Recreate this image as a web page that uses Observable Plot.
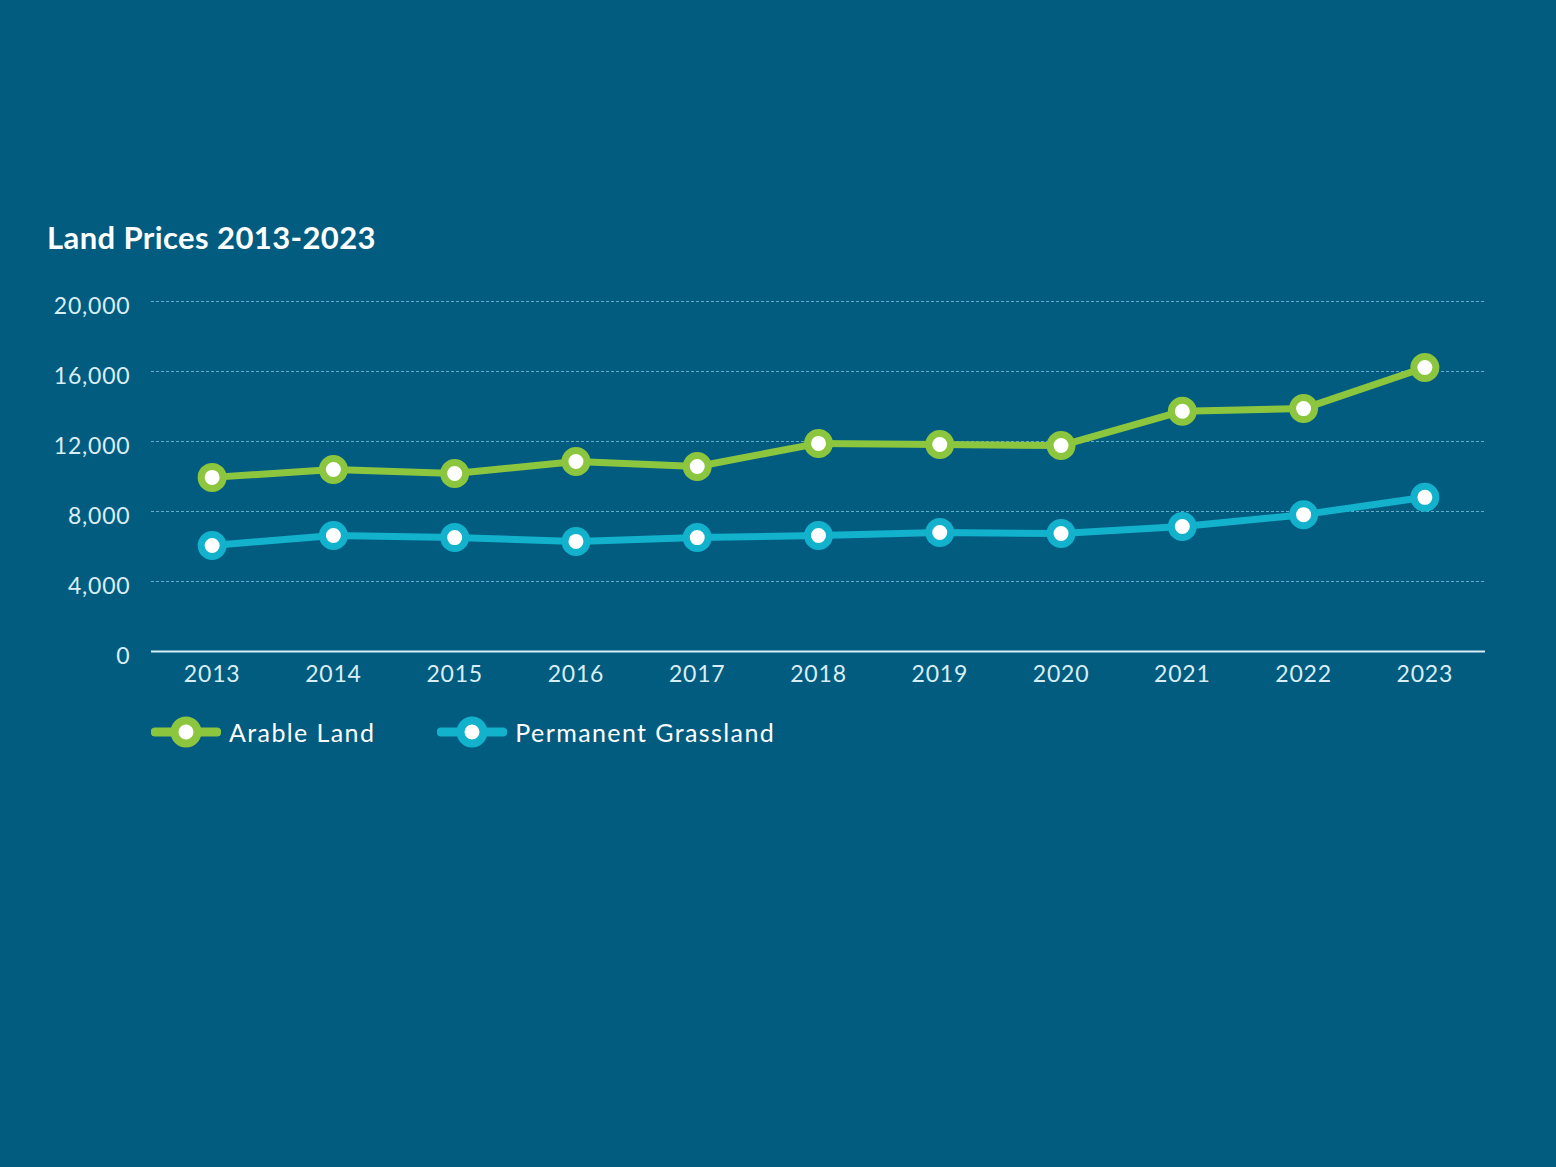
<!DOCTYPE html>
<html>
<head>
<meta charset="utf-8">
<script src="https://cdn.jsdelivr.net/npm/d3@7"></script>
<script src="https://cdn.jsdelivr.net/npm/@observablehq/plot@0.6"></script>
<style>
  html, body { margin: 0; padding: 0; background: #025c80; width: 1556px; height: 1167px; overflow: hidden; font-family: Lato, "Noto Sans", sans-serif; }
  #title { position: absolute; left: 47px; top: 218px; color: #ffffff; font-weight: bold; font-size: 31px; letter-spacing: 0.4px; }
  #chart { position: absolute; left: 0; top: 270px; }
  #chart svg text { letter-spacing: 0.8px; }
  #legend { position: absolute; left: 151px; top: 714px; display: flex; align-items: center; color: #ffffff; font-size: 25px; letter-spacing: 1.4px; }
  .item { display: flex; align-items: center; margin-right: 62px; }
  .item svg { margin-right: 8px; }
</style>
</head>
<body>
<div id="title">Land Prices 2013-2023</div>
<div id="chart"></div>
<div id="legend"></div>
<script>
const years = [2013, 2014, 2015, 2016, 2017, 2018, 2019, 2020, 2021, 2022, 2023];
const arableLand = [9950, 10400, 10170, 10860, 10570, 11890, 11830, 11770, 13730, 13880, 16230];
const permanentGrassland = [6060, 6630, 6510, 6290, 6510, 6630, 6800, 6740, 7140, 7820, 8810];
const seriesNames = ["Arable Land", "Permanent Grassland"];
const seriesColors = ["#8cc63e", "#12b1cc"];
const yTicks = [0, 4000, 8000, 12000, 16000, 20000];

const rows = [];
years.forEach((yr, i) => {
  rows.push({year: yr, value: arableLand[i], series: seriesNames[0]});
  rows.push({year: yr, value: permanentGrassland[i], series: seriesNames[1]});
});

const color = {domain: seriesNames, range: seriesColors};

const plot = Plot.plot({
  width: 1556,
  height: 431,
  marginLeft: 151,
  marginRight: 71,
  marginTop: 31,
  marginBottom: 50,
  style: {background: "transparent", color: "#d9eef6", fontFamily: "Lato, 'Noto Sans', sans-serif", fontSize: "23px", overflow: "visible"},
  x: {domain: [2012.5, 2023.5], label: null},
  y: {domain: [0, 20000], label: null},
  color,
  marks: [
    Plot.ruleY(yTicks.filter(d => d > 0), {stroke: "#6fb6d3", strokeWidth: 1, strokeDasharray: "3,2", strokeOpacity: 0.9}),
    Plot.ruleY([0], {stroke: "#d6eef6", strokeWidth: 2}),
    Plot.axisY({ticks: yTicks, tickFormat: d3.format(","), tickSize: 0, tickPadding: 21, fontSize: 23, fill: "#d9eef6", dy: 5}),
    Plot.axisX({ticks: years, tickFormat: d => String(d), tickSize: 0, tickPadding: 14, fontSize: 23, fill: "#d9eef6"}),
    Plot.line(rows, {x: "year", y: "value", z: "series", stroke: "series", strokeWidth: 7, strokeLinejoin: "round"}),
    Plot.dot(rows, {x: "year", y: "value", stroke: "series", fill: "#ffffff", r: 11, strokeWidth: 7})
  ]
});
document.getElementById("chart").appendChild(plot);

const legend = document.getElementById("legend");
seriesNames.forEach((name, i) => {
  const item = document.createElement("div");
  item.className = "item";
  item.innerHTML = `<svg width="70" height="36" viewBox="0 0 70 36"><line x1="4" y1="18" x2="66" y2="18" stroke="${seriesColors[i]}" stroke-width="9" stroke-linecap="round"/><circle cx="35" cy="18" r="11.5" fill="#ffffff" stroke="${seriesColors[i]}" stroke-width="8"/></svg><span>${name}</span>`;
  legend.appendChild(item);
});
</script>
</body>
</html>
